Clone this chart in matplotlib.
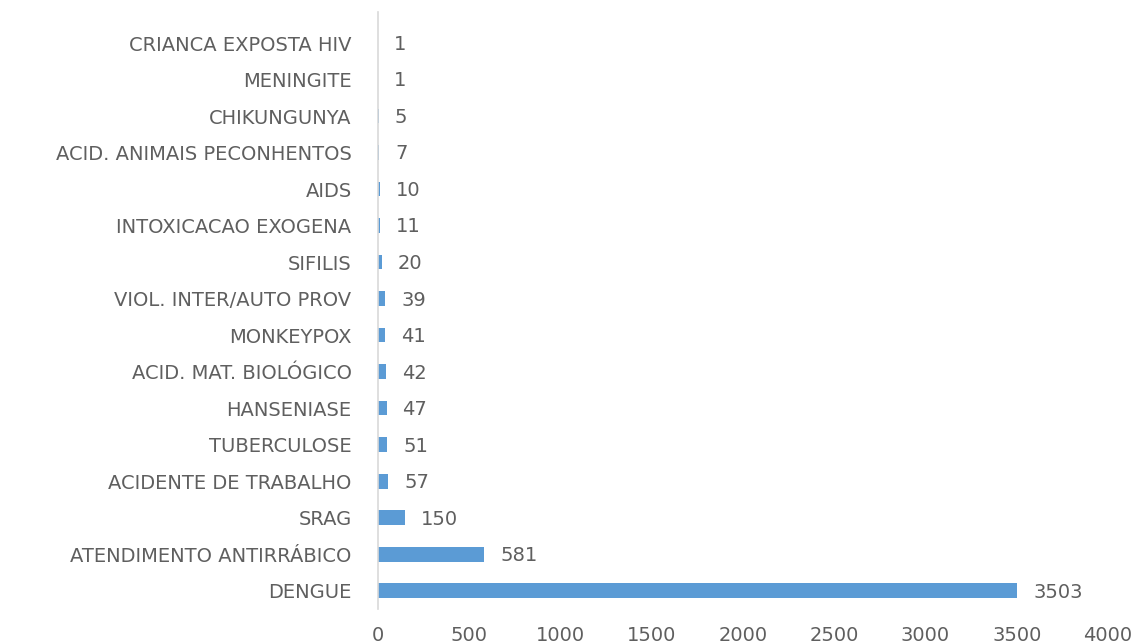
import matplotlib.pyplot as plt
import numpy as np

# Notificações por agravo (de cima para baixo)
categorias = [
    "CRIANCA EXPOSTA HIV", "MENINGITE", "CHIKUNGUNYA", "ACID. ANIMAIS PECONHENTOS",
    "AIDS", "INTOXICACAO EXOGENA", "SIFILIS", "VIOL. INTER/AUTO PROV",
    "MONKEYPOX", "ACID. MAT. BIOLÓGICO", "HANSENIASE", "TUBERCULOSE",
    "ACIDENTE DE TRABALHO", "SRAG", "ATENDIMENTO ANTIRRÁBICO", "DENGUE",
]
casos = [1, 1, 5, 7, 10, 11, 20, 39, 41, 42, 47, 51, 57, 150, 581, 3503]
ticks_x = [0, 500, 1000, 1500, 2000, 2500, 3000, 3500, 4000]

COR_BARRA = "#5B9BD5"
COR_TEXTO = "#5F5F5F"

plt.rcParams['font.family'] = ['DejaVu Sans']

fig = plt.figure(figsize=(11.36, 6.44), dpi=100)
ax = fig.add_axes([378 / 1136, 35 / 644, (1108 - 378) / 1136, (609 - 12) / 644])

# posição 0 embaixo (DENGUE), a última em cima
y = np.arange(len(categorias))[::-1]
ax.barh(y, casos, height=0.4, color=COR_BARRA)

for yi, v in zip(y, casos):
    ax.annotate(f"{v}", xy=(v, yi), xytext=(11.5, -1), textcoords="offset points",
                ha="left", va="center", fontsize=14, color=COR_TEXTO)

ax.set_xlim(0, 4000)
ax.set_ylim(-0.5, 15.85)
ax.set_yticks(y)
ax.set_yticklabels(categorias)
ax.set_xticks(ticks_x)
ax.tick_params(axis="y", length=0, pad=19, labelsize=14, labelcolor=COR_TEXTO)
ax.tick_params(axis="x", length=0, pad=12, labelsize=14, labelcolor=COR_TEXTO)

for lado in ["top", "right", "bottom"]:
    ax.spines[lado].set_visible(False)
ax.spines["left"].set_color("#D9D9D9")
ax.spines["left"].set_linewidth(1.2)

fig.savefig("out.png", dpi=100)
